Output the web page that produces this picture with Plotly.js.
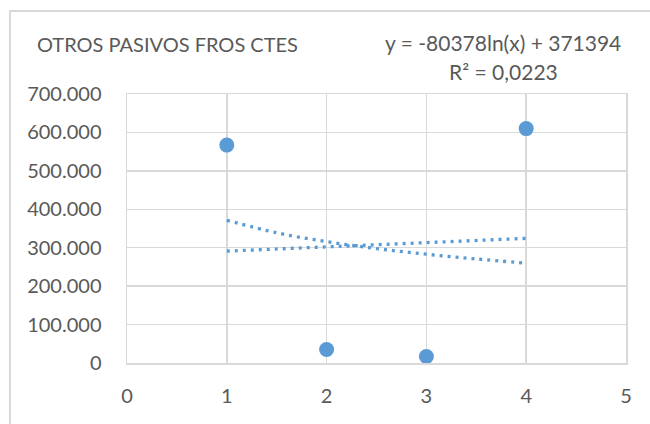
<!DOCTYPE html>
<html>
<head>
<meta charset="utf-8">
<script src="https://cdn.plot.ly/plotly-3.0.1.min.js"></script>
<style>
html,body{margin:0;padding:0;background:#fff;}
#frame{position:absolute;left:9px;top:10px;width:700px;height:500px;border-left:2px solid #d9d9d9;border-top:2px solid #d9d9d9;box-sizing:border-box;}
#chart{position:absolute;left:0;top:0;width:650px;height:424px;}
</style>
</head>
<body>
<div id="frame"></div>
<div id="chart"></div>
<script>
// Data
const xValues = [1, 2, 3, 4];
const yValues = [567000, 35000, 17000, 610000];

// Logarithmic trendline (y = -80378ln(x) + 371394)
const logTrendX = [1, 1.5, 2, 2.5, 3, 3.5, 4];
const logTrendY = [371394, 338800, 315680, 297740, 283090, 270700, 259960];

// Linear trendline
const linTrendX = [1, 4];
const linTrendY = [291100, 324400];

const titleText = "OTROS PASIVOS FROS CTES";
const eqText = "y = -80378ln(x) + 371394";
const r2Text = "R² = 0,0223";

const blue = "#5b9bd5";
const txt = "#595959";
const fontFam = "Lato, 'Open Sans', sans-serif";

const traces = [
  {x: logTrendX, y: logTrendY, type: "scatter", mode: "lines",
   line: {color: blue, width: 3.3, dash: "3px,5px", shape: "spline"}, hoverinfo: "skip"},
  {x: linTrendX, y: linTrendY, type: "scatter", mode: "lines",
   line: {color: blue, width: 3.3, dash: "3px,5px"}, hoverinfo: "skip"},
  {x: xValues, y: yValues, type: "scatter", mode: "markers",
   marker: {color: blue, size: 15}}
];

const plotL = 127, plotR = 626, plotT = 94, plotB = 363;
function py(pix){ return (plotB - pix) / (plotB - plotT); }
function px(pix){ return (pix - plotL) / (plotR - plotL); }

const layout = {
  width: 650, height: 424,
  margin: {l: plotL, r: 650 - plotR, t: plotT, b: 424 - plotB},
  paper_bgcolor: "rgba(0,0,0,0)",
  plot_bgcolor: "rgba(0,0,0,0)",
  showlegend: false,
  separators: ",.",
  font: {family: fontFam, color: txt, size: 20},
  xaxis: {
    range: [0, 5], dtick: 1, tick0: 0,
    showgrid: true, gridcolor: "#d9d9d9", gridwidth: 1.5,
    zeroline: false, showline: true, linecolor: "#d9d9d9", linewidth: 1.5, mirror: true,
    ticks: "", ticklabelstandoff: 14,
    tickfont: {family: fontFam, color: txt, size: 20}
  },
  yaxis: {
    range: [0, 700000], dtick: 100000, tick0: 0, tickformat: ",d",
    showgrid: true, gridcolor: "#d9d9d9", gridwidth: 1.5,
    zeroline: false, showline: true, linecolor: "#d9d9d9", linewidth: 1.5, mirror: true,
    ticks: "", ticklabelstandoff: 20,
    tickfont: {family: fontFam, color: txt, size: 20}
  },
  title: {
    text: titleText,
    xref: "container", yref: "container",
    x: 37 / 650, xanchor: "left",
    y: 1 - 45 / 424, yanchor: "middle",
    font: {family: fontFam, color: txt, size: 20}
  },
  annotations: [
    {text: eqText, xref: "paper", yref: "paper", x: px(503), y: py(43),
     xanchor: "center", yanchor: "middle", showarrow: false,
     font: {family: fontFam, color: txt, size: 21}},
    {text: r2Text, xref: "paper", yref: "paper", x: px(503), y: py(71),
     xanchor: "center", yanchor: "middle", showarrow: false,
     font: {family: fontFam, color: txt, size: 21}}
  ]
};

Plotly.newPlot("chart", traces, layout, {displayModeBar: false, staticPlot: true});
</script>
</body>
</html>
